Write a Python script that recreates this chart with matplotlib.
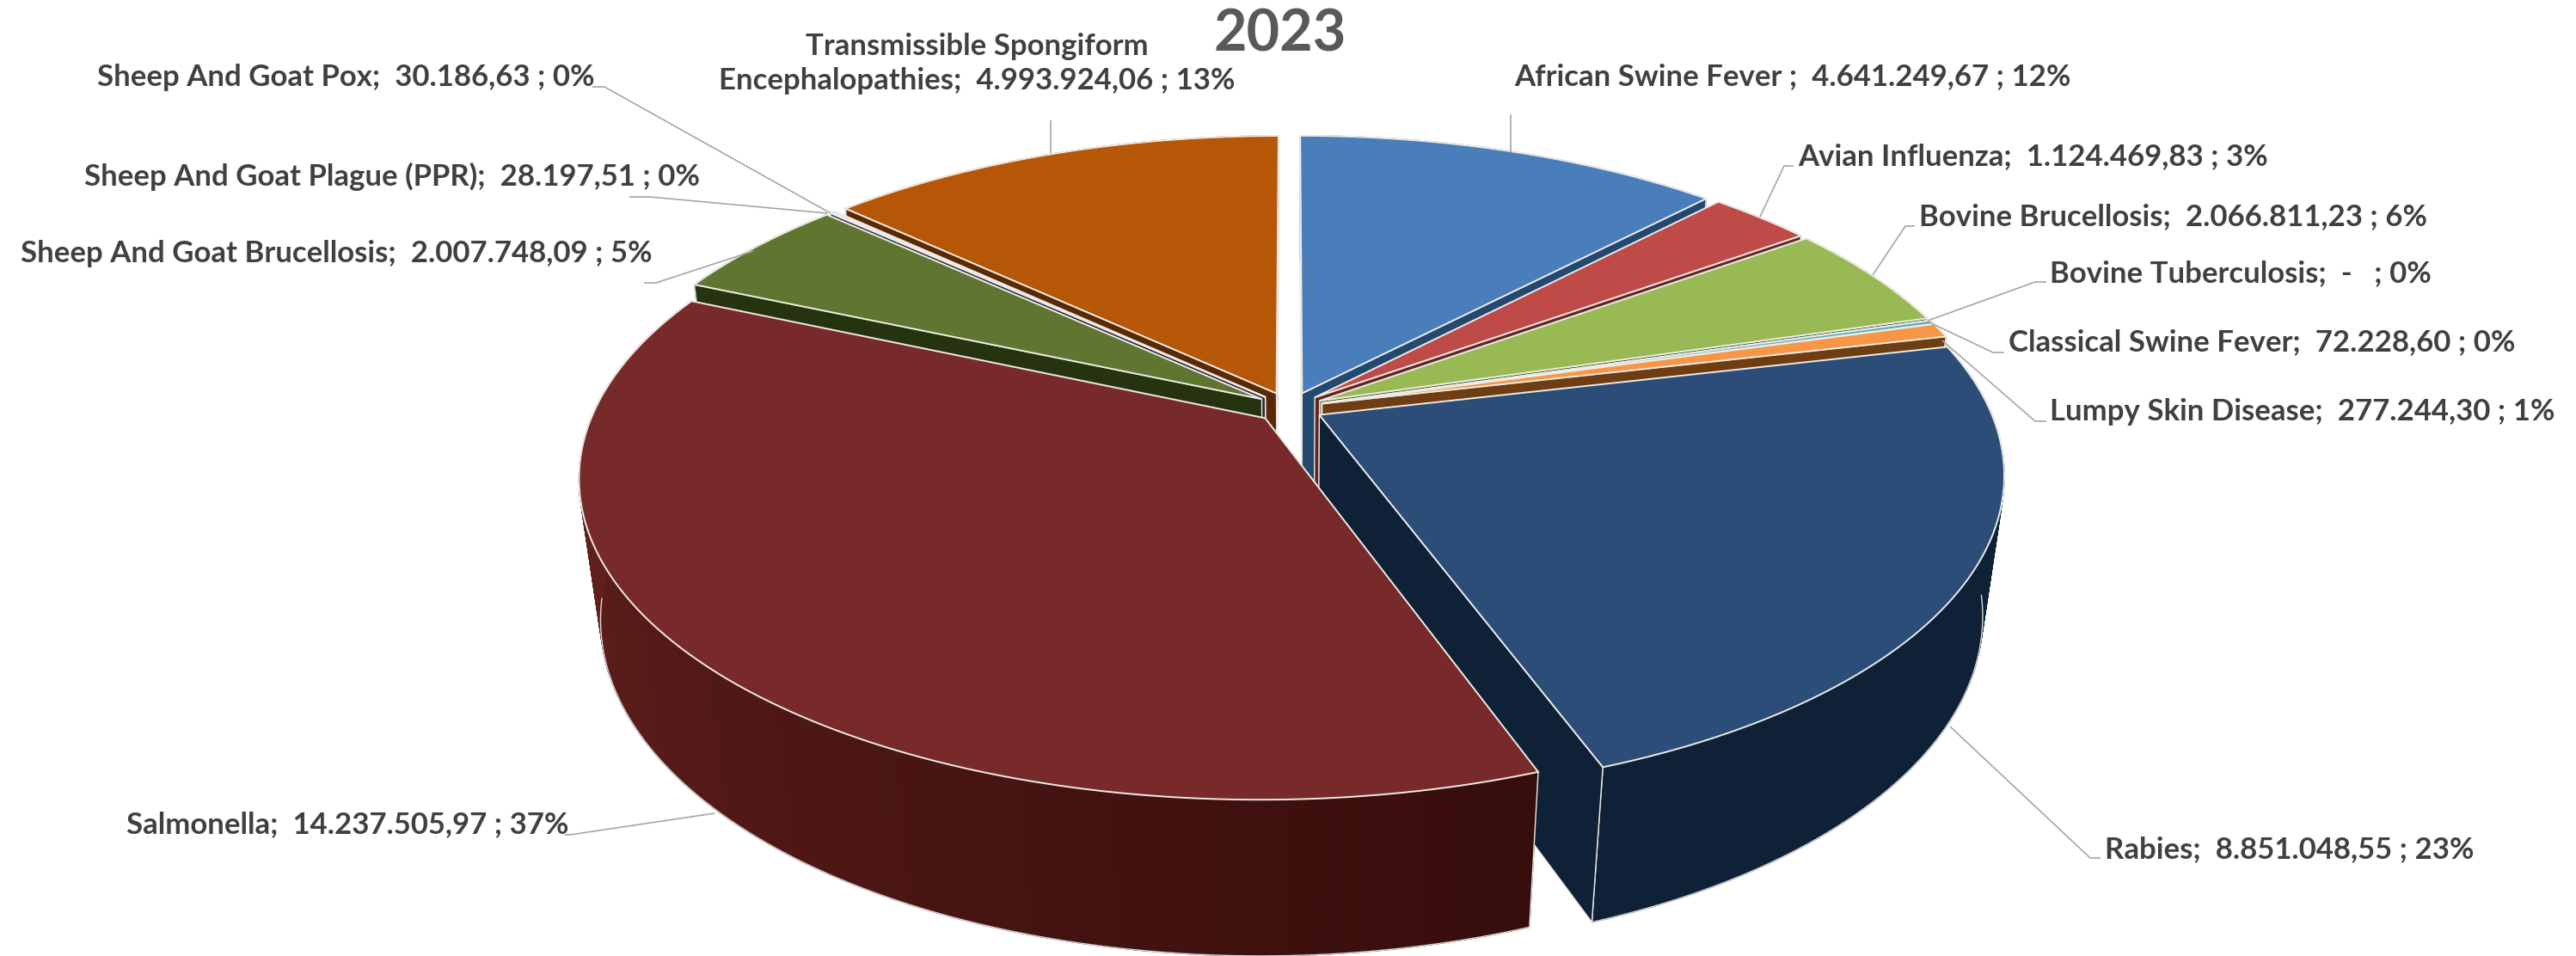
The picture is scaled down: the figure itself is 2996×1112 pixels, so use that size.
import numpy as np
import matplotlib
matplotlib.use("Agg")
import matplotlib.pyplot as plt
from matplotlib.colors import to_rgb
from matplotlib.patches import Polygon

# ---------- data ----------
diseases = ["African Swine Fever ", "Avian Influenza", "Bovine Brucellosis", "Bovine Tuberculosis",
            "Classical Swine Fever", "Lumpy Skin Disease", "Rabies", "Salmonella",
            "Sheep And Goat Brucellosis", "Sheep And Goat Plague (PPR)", "Sheep And Goat Pox",
            "Transmissible Spongiform\nEncephalopathies"]
values = [4641249.67, 1124469.83, 2066811.23, 0.0, 72228.60, 277244.30, 8851048.55,
          14237505.97, 2007748.09, 28197.51, 30186.63, 4993924.06]
value_text = ["4.641.249,67", "1.124.469,83", "2.066.811,23", "-  ", "72.228,60", "277.244,30",
              "8.851.048,55", "14.237.505,97", "2.007.748,09", "28.197,51", "30.186,63", "4.993.924,06"]
percent = [12, 3, 6, 0, 0, 1, 23, 37, 5, 0, 0, 13]

# ---------- style ----------
top_col = ["#4A7EBB", "#BE4B48", "#98B954", "#7D60A0", "#46AAC5", "#F79646",
           "#2B4D78", "#772A29", "#5F7530", "#4D3B62", "#276A7C", "#B65708"]
wall_col = [("#24486F", "#24486F"), ("#632523", "#632523"), ("#4F6228", "#4F6228"), ("#3F3151", "#3F3151"),
            ("#215968", "#215968"), ("#6E3D12", "#6E3D12"), ("#0F2136", "#0F2136"),
            ("#360D0B", "#6E2522"), ("#26330F", "#26330F"), ("#2A1F3A", "#2A1F3A"),
            ("#123B47", "#123B47"), ("#592A04", "#592A04")]
EDGE = "#EDEBE6"
LEADER = "#A6A6A6"
TEXT = "#404040"
plt.rcParams["font.family"] = ["Lato", "DejaVu Sans"]

W, H = 2996, 1112
fig = plt.figure(figsize=(W / 100, H / 100), dpi=100, facecolor="white")
ax = fig.add_axes([0, 0, 1, 1])
ax.set_xlim(0, W)
ax.set_ylim(H, 0)
ax.axis("off")

# ---------- projection of the tilted disc ----------
CX, CY, A, B, P, Q, D, EXPL = 1500, 474, 779, 359, 0.18, 0.03, 167, 0.05


def project(u, v, low=False):
    u, v = np.asarray(u, float), np.asarray(v, float)
    if low:
        s = 1 / (1 + P * v + Q)
        return CX + A * u * s, CY - (B * v - D) * s
    s = 1 / (1 + P * v)
    return CX + A * u * s, CY - B * v * s


fractions = np.array(values) / sum(values)
ends = np.cumsum(fractions) * 360
starts = ends - fractions * 360


def draw_slice(i):
    a0, a1 = np.radians(starts[i]), np.radians(ends[i])
    mid = (a0 + a1) / 2
    ou, ov = EXPL * np.sin(mid), EXPL * np.cos(mid)
    n = max(3, int((ends[i] - starts[i]) * 2))
    th = np.linspace(a0, a1, n)
    us, vs = ou + np.sin(th), ov + np.cos(th)
    xt, yt = project(us, vs)
    xb, yb = project(us, vs, low=True)
    ax_t = project(ou, ov)
    ax_b = project(ou, ov, low=True)

    # outer curved wall, built from strips so it can carry its shading
    c0, c1 = np.array(to_rgb(wall_col[i][0])), np.array(to_rgb(wall_col[i][1]))
    for k in range(n - 1):
        c = c0 + (c1 - c0) * (k + 0.5) / (n - 1)
        ax.add_patch(Polygon([(xt[k], yt[k]), (xt[k + 1], yt[k + 1]), (xb[k + 1], yb[k + 1]), (xb[k], yb[k])],
                             closed=True, fc=c, ec=c, lw=1.0, zorder=2))
    # lower rim, only where it is the visible outline
    vis = np.cos(th) < -0.12
    if vis.any():
        ax.plot(xb[vis], yb[vis], color="#D9D9D9", lw=1.0, zorder=2)
    # upright corner lines on the near side
    for idx in (0, -1):
        if np.cos(th[idx]) < -0.5:
            ax.plot([xt[idx], xb[idx]], [yt[idx], yb[idx]], color=EDGE, lw=1.0, zorder=2)

    # flat cut walls that face the viewer
    for ang, normal, col, idx in ((a0, a0 - np.pi / 2, c0, 0), (a1, a1 + np.pi / 2, c0, -1)):
        if np.cos(normal) < 0.02:
            pts = [ax_t, (xt[idx], yt[idx]), (xb[idx], yb[idx]), ax_b]
            ax.add_patch(Polygon(pts, closed=True, fc=col, ec=EDGE, lw=1.0, zorder=2))

    # top face
    pts = [ax_t] + list(zip(xt, yt))
    ax.add_patch(Polygon(pts, closed=True, fc=top_col[i], ec=EDGE, lw=1.4, zorder=2))


for i in [0, 1, 2, 3, 4, 5, 6, 11, 10, 9, 8, 7]:
    draw_slice(i)

# ---------- leaders (annotation routing) ----------
leaders = [
    [(1757, 133), (1757, 177)],
    [(2086, 193), (2075, 193), (2047, 252)],
    [(2227, 263), (2216, 263), (2178, 320)],
    [(2380, 328), (2367, 328), (2242, 373)],
    [(2331, 410), (2318, 410), (2244, 375)],
    [(2380, 490), (2367, 490), (2259, 396)],
    [(2268, 845), (2431, 998), (2443, 998)],
    [(831, 946), (663, 971), (657, 971)],
    [(749, 329), (763, 329), (876, 292)],
    [(732, 229), (756, 229), (962, 248)],
    [(689, 101), (703, 101), (966, 248)],
    [(1222, 140), (1222, 178)],
]
for pts in leaders:
    xs, ys = zip(*pts)
    ax.plot(xs, ys, color=LEADER, lw=1.2, zorder=5, solid_capstyle="butt")

# ---------- labels ----------
label_pos = [(1761, 89, "left"), (2091, 182, "left"), (2232, 252, "left"), (2384, 318, "left"),
             (2336, 398, "left"), (2384, 479, "left"), (2448, 988, "left"), (147, 959, "left"),
             (24, 295, "left"), (98, 205, "left"), (113, 90, "left"), (1136, 74, "center")]
FS = 25
for name, vt, pc, (x, y, ha) in zip(diseases, value_text, percent, label_pos):
    ax.text(x, y, f"{name};  {vt} ; {pc}%", ha=ha, va="center", fontsize=FS, fontweight="bold",
            color=TEXT, zorder=6, linespacing=1.3, multialignment="center")

ax.text(1489, 40, "2023", ha="center", va="center", fontsize=48, fontweight="bold", color="#595959", zorder=6)

fig.savefig("out.png", dpi=100, facecolor="white")
